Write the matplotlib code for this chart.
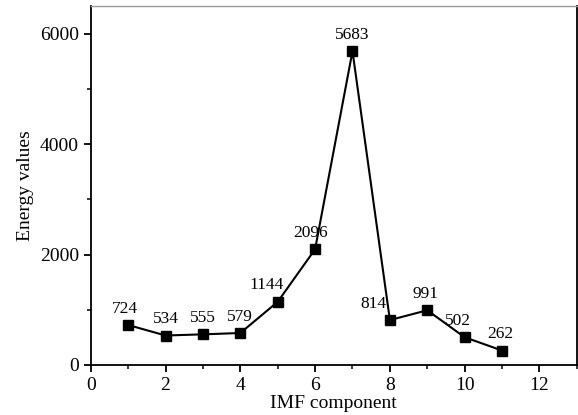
import matplotlib.pyplot as plt
from matplotlib.ticker import MultipleLocator

plt.rcParams['font.family'] = ['Liberation Serif', 'DejaVu Serif']

# IMF energy values
imf = [1, 2, 3, 4, 5, 6, 7, 8, 9, 10, 11]
energy = [724, 534, 555, 579, 1144, 2096, 5683, 814, 991, 502, 262]
labels = ['724', '534', '555', '579', '1144', '2096', '5683', '814', '991', '502', '262']
# label offsets in points (dx, dy)
offsets = [(-2, 6), (0, 6), (0, 6), (0, 6), (-8, 6), (-3, 6), (0, 6), (-12, 6), (-1, 6), (-5, 6), (-1, 6)]

fig = plt.figure(figsize=(5.78, 4.15), dpi=100)
ax = fig.add_axes([0.157, 0.1205, 0.841, 0.865])

ax.plot(imf, energy, color='black', lw=1.5, marker='s', markersize=6.5)
for x, y, t, (dx, dy) in zip(imf, energy, labels, offsets):
    ax.annotate(t, (x, y), xytext=(dx, dy), textcoords='offset points',
                ha='center', va='bottom', fontsize=12.5)

ax.set_xlim(0, 13)
ax.set_ylim(0, 6500)
ax.xaxis.set_major_locator(MultipleLocator(2))
ax.xaxis.set_minor_locator(MultipleLocator(1))
ax.yaxis.set_major_locator(MultipleLocator(2000))
ax.yaxis.set_minor_locator(MultipleLocator(1000))
ax.tick_params(which='major', direction='out', length=5, width=1.3, labelsize=14)
ax.tick_params(which='minor', direction='out', length=3, width=1.1)
ax.tick_params(top=False, right=False, which='both')
for s in ['left', 'bottom', 'right']:
    ax.spines[s].set_linewidth(1.3)
ax.spines['top'].set_color('#999999')
ax.spines['top'].set_linewidth(1.0)

ax.set_xlabel('IMF component', fontsize=14, labelpad=1)
ax.set_ylabel('Energy values', fontsize=14, labelpad=4)

plt.savefig('out.png', dpi=100)
